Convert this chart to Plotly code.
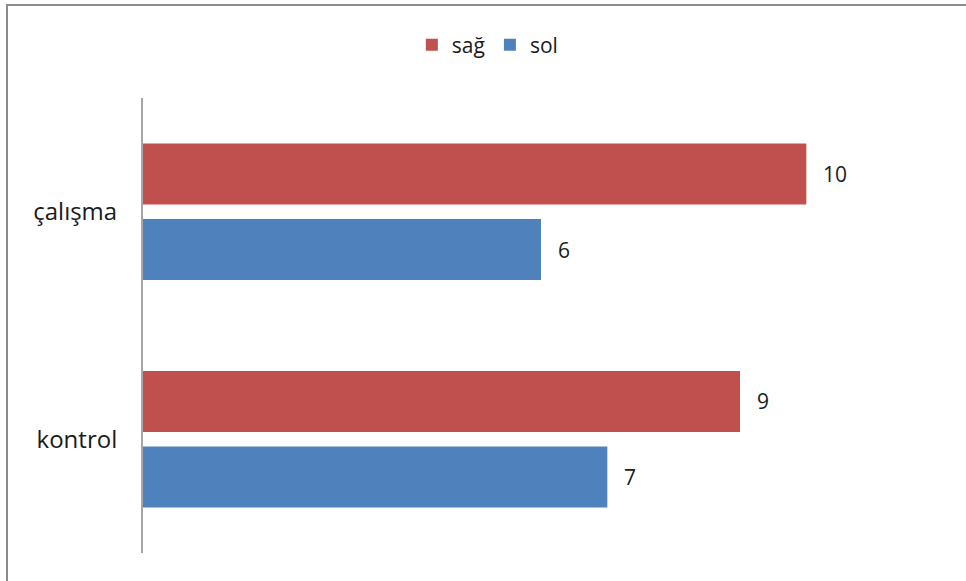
import plotly.graph_objects as go

categories = ["çalışma", "kontrol"]
sag_values = [10, 9]
sol_values = [6, 7]
series_names = ["sağ", "sol"]
colors = ["#C0504D", "#4F81BD"]

FONT = "Open Sans"
BARGAP = 0.336
BARGROUPGAP = 0.19

fig = go.Figure()
for name, vals, col in zip(series_names, [sag_values, sol_values], colors):
    fig.add_trace(go.Bar(
        y=categories, x=vals, name=name, orientation="h",
        marker=dict(color=col, line=dict(width=0)),
        textposition="none",
    ))

# value labels outside bar ends, vertically at each bar's centre
band = 455 / len(categories)
slot = band * (1 - BARGAP) / len(series_names)
annotations = []
for i, vals in enumerate([sag_values, sol_values]):
    for j, v in enumerate(vals):
        annotations.append(dict(
            x=v, y=categories[j], xref="x", yref="y",
            text=str(v), showarrow=False, xanchor="left", yanchor="middle",
            xshift=15, yshift=(slot / 2) if i == 0 else -(slot / 2),
            font=dict(family=FONT, size=21, color="#1a1a1a"),
        ))

fig.update_layout(
    width=966, height=581,
    margin=dict(l=143, r=27, t=98, b=28),
    paper_bgcolor="white", plot_bgcolor="white",
    barmode="group", bargap=BARGAP, bargroupgap=BARGROUPGAP,
    font=dict(family=FONT, size=21, color="#1a1a1a"),
    showlegend=True,
    legend=dict(orientation="h", xref="container", yref="container",
                x=0.505, y=1 - 45 / 581, xanchor="center", yanchor="middle",
                font=dict(family=FONT, size=21, color="#1a1a1a"),
                itemwidth=30, traceorder="normal"),
    xaxis=dict(range=[0, 12], showgrid=False, zeroline=False,
               showticklabels=False, showline=False, ticks=""),
    yaxis=dict(autorange="reversed", showgrid=False, zeroline=False,
               showline=True, linecolor="#A6A6A6", linewidth=2,
               ticks="", ticklabelstandoff=19,
               tickfont=dict(family=FONT, size=24, color="#1a1a1a")),
    shapes=[dict(type="rect", xref="paper", yref="paper",
                 x0=(7 - 143) / 796, x1=1.2, y0=-0.3, y1=(553 - 5) / 455,
                 line=dict(color="#8C8C8C", width=2), layer="below")],
    annotations=annotations,
)

fig.write_html("out.html")
